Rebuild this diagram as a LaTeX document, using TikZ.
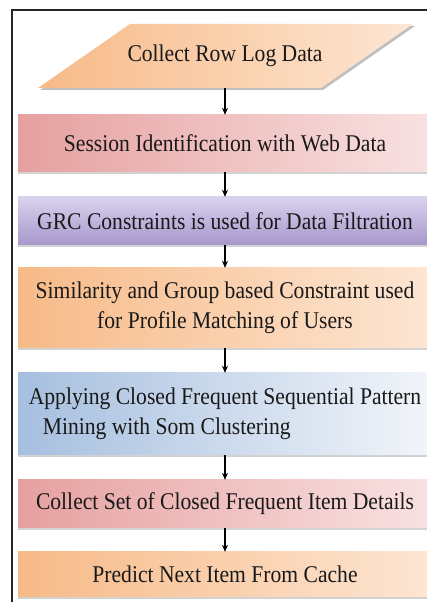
\documentclass[tikz,border=0pt]{standalone}
\usepackage{fontspec}
\setmainfont[FakeStretch=0.9]{Liberation Serif}
\usetikzlibrary{arrows.meta,shadows}
\definecolor{redA}{HTML}{E6A0A0}
\definecolor{redB}{HTML}{F9E2E2}
\definecolor{purA}{HTML}{D9D2EE}
\definecolor{purB}{HTML}{A797CB}
\definecolor{orA}{HTML}{F7BA88}
\definecolor{orB}{HTML}{FDE6D3}
\definecolor{bluA}{HTML}{A6BFDF}
\definecolor{bluB}{HTML}{F2F5FA}
\tikzset{
  txt/.style={font=\fontsize{24}{30}\selectfont, text=black!90},
  stepbox/.style={rectangle, minimum width=414pt, inner sep=0pt, txt,
    drop shadow={opacity=0.35, shadow xshift=0pt, shadow yshift=-2pt}},
  redbox/.style={stepbox, left color=redA, right color=redB},
  purbox/.style={stepbox, top color=purA, bottom color=purB},
  orbox/.style={stepbox, left color=orA, right color=orB},
  blubox/.style={stepbox, left color=bluA, right color=bluB},
  flow/.style={-{Stealth[length=7pt,width=6pt]}, line width=1.1pt, black}
}
\begin{document}
\begin{tikzpicture}[x=1pt,y=1pt]
\useasboundingbox (0,0) rectangle (426,602);
\fill[white] (0,0) rectangle (426,602);
% frame
\draw[line width=2.4pt, black!85] (12,0) -- (12,592) -- (430,592);
% parallelogram
\fill[black, opacity=0.25] (40,512) -- (323,512) -- (415,576) -- (132,576) -- cycle;
\shade[left color=orA, right color=orB] (38,514) -- (321,514) -- (413,578) -- (130,578) -- cycle;
\node[inner sep=0pt, minimum height=64pt, txt] (n1) at (225,546) {Collect Row Log Data};
% boxes
\node[redbox, minimum height=57pt] (n2) at (225,458.5) {Session Identification with Web Data};
\node[purbox, minimum height=48pt] (n3) at (225,381) {GRC Constraints is used for Data Filtration};
\node[orbox, minimum height=80pt, align=center] (n4) at (225,294) {Similarity and Group based Constraint used\\for Profile Matching of Users};
\node[blubox, minimum height=82pt, align=left] (n5) at (225,188) {Applying Closed Frequent Sequential Pattern\\\hspace*{14pt}Mining with Som Clustering};
\node[redbox, minimum height=48pt] (n6) at (225,98) {Collect Set of Closed Frequent Item Details};
\node[orbox, minimum height=45pt] (n7) at (225,27.5) {Predict Next Item From Cache};
% connectors
\draw[flow] (n1.south) -- (n2.north);
\draw[flow] (n2.south) -- (n3.north);
\draw[flow] (n3.south) -- (n4.north);
\draw[flow] (n4.south) -- (n5.north);
\draw[flow] (n5.south) -- (n6.north);
\draw[flow] (n6.south) -- (n7.north);
\end{tikzpicture}
\end{document}
